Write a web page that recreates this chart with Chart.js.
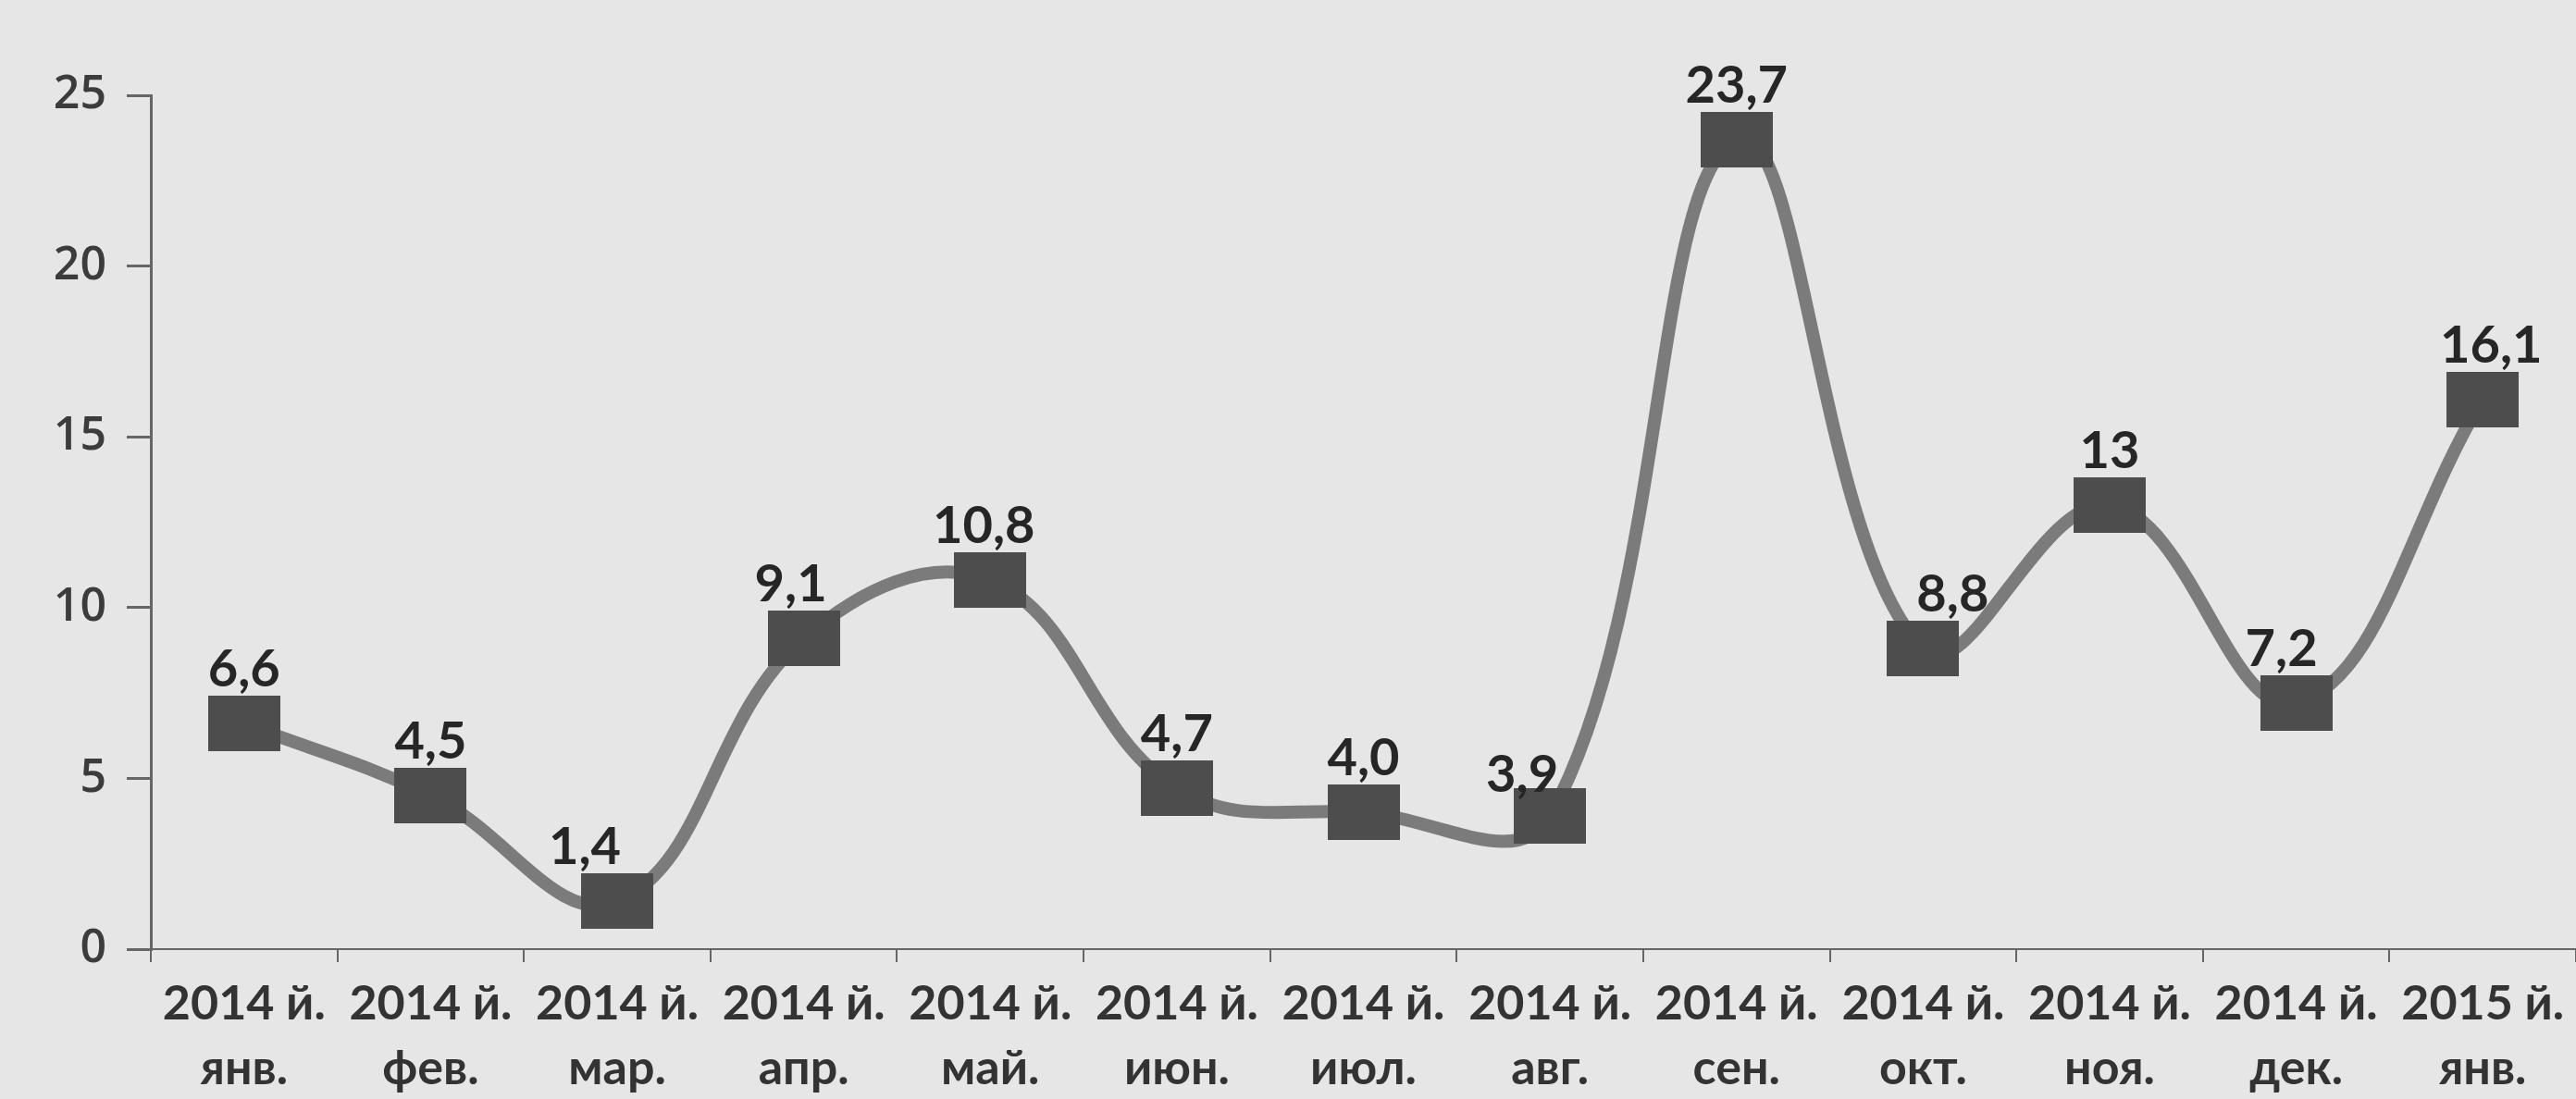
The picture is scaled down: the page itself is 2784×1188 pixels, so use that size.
<!DOCTYPE html>
<html>
<head>
<meta charset="utf-8">
<script src="https://cdn.jsdelivr.net/npm/chart.js@4.4.1/dist/chart.umd.min.js"></script>
<style>
body { margin: 0; background: #e6e6e6; }
canvas { display: block; }
</style>
</head>
<body>
<canvas id="myChart" width="2784" height="1188"></canvas>
<script>
let months = ["янв.", "фев.", "мар.", "апр.", "май.", "июн.", "июл.", "авг.", "сен.", "окт.", "ноя.", "дек.", "янв."];
let years = ["2014 й.", "2014 й.", "2014 й.", "2014 й.", "2014 й.", "2014 й.", "2014 й.", "2014 й.", "2014 й.", "2014 й.", "2014 й.", "2014 й.", "2015 й."];
let values = [6.6, 4.5, 1.4, 9.1, 10.8, 4.7, 4.0, 3.9, 23.7, 8.8, 13, 7.2, 16.1];
let valueText = ["6,6", "4,5", "1,4", "9,1", "10,8", "4,7", "4,0", "3,9", "23,7", "8,8", "13", "7,2", "16,1"];
let yTicks = [0, 5, 10, 15, 20, 25];

// wide square marker like in the scan
let marker = document.createElement("canvas");
marker.width = 78;
marker.height = 60;
let mctx = marker.getContext("2d");
mctx.fillStyle = "#4d4d4d";
mctx.fillRect(0, 0, 78, 60);

// small nudges for the value labels (dx, dy in px)
let labelNudge = [[0, 0], [0, 0], [-35, 0], [-14, 0], [-7, 0], [0, 0], [0, 0], [-30, 14], [0, 0], [32, 0], [0, 0], [-16, 0], [9, 0]];

const valueLabels = {
	id: "valueLabels",
	afterDatasetsDraw(chart) {
		let ctx = chart.ctx;
		let meta = chart.getDatasetMeta(0);
		ctx.save();
		ctx.font = "bold 56px Lato";
		ctx.fillStyle = "#262626";
		ctx.textAlign = "center";
		ctx.textBaseline = "alphabetic";
		meta.data.forEach(function(pt, i) {
			let n = labelNudge[i];
			ctx.fillText(valueText[i], pt.x + n[0], pt.y - 40 + n[1]);
		});
		ctx.restore();
	}
};

let labels = years.map(function(y, i) { return [y, months[i]]; });

let config = {
	type: "line",
	data: {
		labels: labels,
		datasets: [{
			data: values,
			borderColor: "#7b7b7b",
			borderWidth: 14,
			tension: 0.4,
			pointStyle: marker,
			pointRadius: 30,
			fill: false,
			clip: false
		}]
	},
	options: {
		responsive: false,
		animation: false,
		layout: { autoPadding: false, padding: { top: 103, right: -12, left: 0, bottom: 0 } },
		plugins: {
			legend: { display: false },
			tooltip: { enabled: false },
			title: { display: false }
		},
		scales: {
			x: {
				offset: true,
				grid: { offset: true, drawOnChartArea: false, tickLength: 14, color: "#666", lineWidth: 2 },
				border: { color: "#666", width: 2 },
				ticks: {
					color: "#333",
					font: { family: "Lato", size: 52, weight: "bold", lineHeight: 1.35 },
					padding: 10,
					maxRotation: 0,
					autoSkip: false
				},
				afterFit: function(scale) {
					scale.height = 162;
					scale.paddingLeft = 0;
					scale.paddingRight = 0;
				}
			},
			y: {
				min: 0,
				max: 25,
				afterBuildTicks: function(scale) { scale.ticks = yTicks.map(function(v) { return { value: v }; }); },
				grid: { drawOnChartArea: false, tickLength: 26, color: "#666", lineWidth: 3 },
				border: { color: "#666", width: 3 },
				ticks: {
					color: "#3c3c3c",
					font: { family: "Open Sans", size: 50, weight: "600" },
					padding: 22
				},
				afterFit: function(scale) { scale.width = 163; }
			}
		}
	},
	plugins: [valueLabels]
};

let chart = new Chart("myChart", config);
</script>
</body>
</html>
